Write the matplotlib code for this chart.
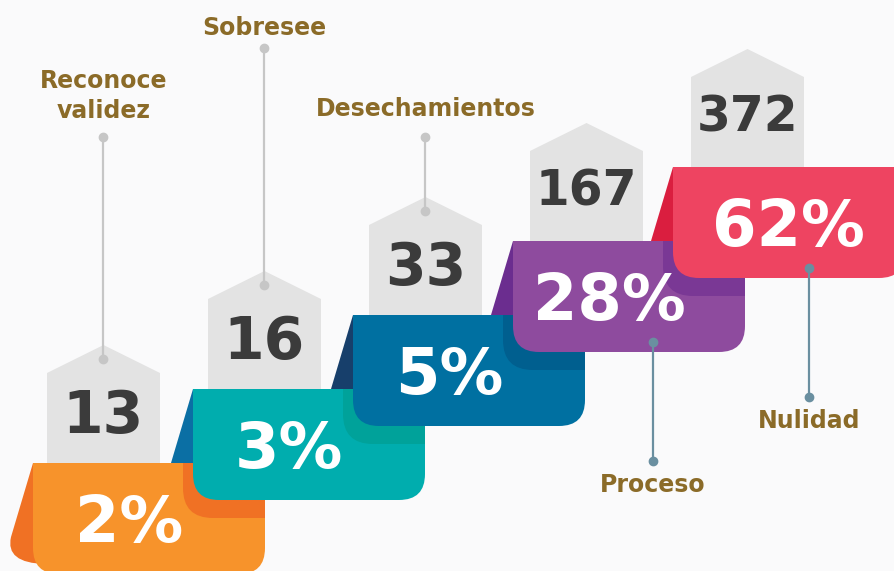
import matplotlib
matplotlib.use("Agg")
import matplotlib.pyplot as plt
from matplotlib.path import Path
from matplotlib.patches import PathPatch, Polygon

# data
categories = ["Reconoce\nvalidez", "Sobresee", "Desechamientos", "Proceso", "Nulidad"]
counts = [13, 16, 33, 167, 372]
percents = [2, 3, 5, 28, 62]

band_colors = ["#F7932B", "#00ADAE", "#0070A1", "#8E4B9E", "#EE4461"]
shade_colors = ["#F07124", "#00A29A", "#005F8F", "#7A3895", "#DA1E3F"]
flap_colors = ["#F07124", "#0B6FA4", "#173F6B", "#6B2D8F", "#DA1E3F"]
label_color = "#8B6B28"
tag_color = "#E3E3E3"

W, H = 895, 571
fig = plt.figure(figsize=(W / 100, H / 100), dpi=100)
fig.patch.set_facecolor("#FAFAFB")
ax = fig.add_axes([0, 0, 1, 1])
ax.set_xlim(0, W)
ax.set_ylim(H, 0)
ax.axis("off")

BW, BH, R = 232, 111, 26
font = "DejaVu Sans"


def band_path(x0, y0, w, h, r):
    verts = [(x0, y0), (x0 + w, y0), (x0 + w, y0 + h - r),
             (x0 + w, y0 + h), (x0 + w - r, y0 + h),
             (x0 + r, y0 + h),
             (x0, y0 + h), (x0, y0 + h - r), (x0, y0)]
    codes = [Path.MOVETO, Path.LINETO, Path.LINETO,
             Path.CURVE3, Path.CURVE3, Path.LINETO,
             Path.CURVE3, Path.CURVE3, Path.CLOSEPOLY]
    return Path(verts, codes)


def shade_path(x0, y0, x1, y1, r):
    verts = [(x0, y0), (x1, y0), (x1, y1), (x0 + r, y1),
             (x0, y1), (x0, y1 - r), (x0, y0)]
    codes = [Path.MOVETO, Path.LINETO, Path.LINETO, Path.LINETO,
             Path.CURVE3, Path.CURVE3, Path.CLOSEPOLY]
    return Path(verts, codes)


def flap_path(x0, y0):
    verts = [(x0 + 20, y0), (x0, y0), (x0 - 22, y0 + 74),
             (x0 - 28, y0 + 100), (x0 + 12, y0 + 101),
             (x0 + 20, y0 + 101), (x0 + 20, y0)]
    codes = [Path.MOVETO, Path.LINETO, Path.LINETO,
             Path.CURVE3, Path.CURVE3, Path.LINETO, Path.CLOSEPOLY]
    return Path(verts, codes)


n = len(counts)
for i in range(n):
    bx = 33 + 160 * i
    by = 463 - 74 * i
    tx = 47 + 161 * i
    tw = 113
    tc = tx + tw / 2
    z = 3 + i * 0.1

    # flap behind everything
    ax.add_patch(PathPatch(flap_path(bx, by), fc=flap_colors[i], ec="none", zorder=1))
    # gray tag
    ax.add_patch(Polygon([(tx, by), (tx, by - 90), (tc, by - 118), (tx + tw, by - 90), (tx + tw, by)],
                         closed=True, fc=tag_color, ec="none", zorder=2))
    big = counts[i] < 100
    ax.text(tc, by - 30 if big else by - 35, str(counts[i]), ha="center", va="baseline",
            fontsize=42 if big else 35, fontweight="bold", color="#3B3B3B",
            family=font, zorder=2.5)
    # band
    ax.add_patch(PathPatch(band_path(bx, by, BW, BH, R), fc=band_colors[i], ec="none", zorder=z))
    if i < n - 1:
        ax.add_patch(PathPatch(shade_path(bx + 150, by, bx + BW, by + 55, 30),
                               fc=shade_colors[i], ec="none", zorder=z + 0.02))
    dx = 115 if i == n - 1 else 96
    ax.text(bx + dx, by + 79, f"{percents[i]}%", ha="center", va="baseline",
            fontsize=46, fontweight="bold", color="white", family=font, zorder=z + 0.05)

    # leader lines and labels
    if i < 3:
        top = [137, 48, 137][i]
        lx = tc
        ax.plot([lx, lx], [top, by - 104], color="#C6C6C6", lw=1.6, zorder=2.2)
        ax.plot([lx, lx], [top, by - 104], "o", color="#C6C6C6", ms=6, zorder=2.3)
        lab_y = [118, 35, 116][i]
        ax.text(lx, lab_y, categories[i], ha="center", va="baseline", fontsize=17,
                fontweight="bold", color=label_color, family=font, linespacing=1.3)
    else:
        lx = bx + (140 if i == 3 else 136)
        top = by + 101
        bot = [461, 397][i - 3]
        ax.plot([lx, lx], [top, bot], color="#6A8FA0", lw=1.6, zorder=4)
        ax.plot([lx, lx], [top, bot], "o", color="#6A8FA0", ms=6, zorder=4)
        ax.text(lx, bot + 31, categories[i], ha="center", va="baseline", fontsize=17,
                fontweight="bold", color=label_color, family=font)

fig.savefig("out.png", dpi=100, facecolor=fig.get_facecolor())
